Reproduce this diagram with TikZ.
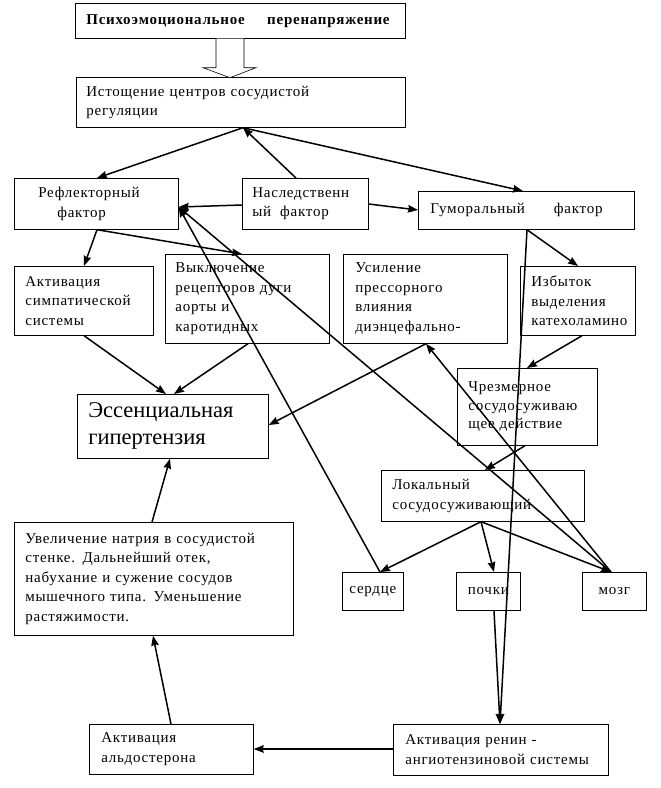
\documentclass[tikz,border=0pt]{standalone}
\usepackage{fontspec}
\setmainfont{Liberation Serif}[LetterSpace=5]
\newfontfamily\essfont{Liberation Serif}
\usetikzlibrary{arrows.meta}
\begin{document}
\begin{tikzpicture}[x=1pt,y=-1pt,
  box/.style={draw, line width=0.7pt, anchor=north west, inner ysep=0pt, align=left,
    font=\fontsize{15}{19.5}\selectfont},
  sbox/.style={draw, line width=0.7pt, anchor=north west, inner sep=0pt, align=center,
    font=\fontsize{15}{19.5}\selectfont},
  arr/.style={line width=1.5pt, -{Stealth[length=10pt,width=7.5pt,inset=1pt]}},
  blockarrow/.style={draw, line width=0.6pt, fill=white}]
\useasboundingbox (0,0) rectangle (661,788);

\node[box, minimum height=35pt, text width=308pt, inner xsep=11pt] (top) at (75,3)
  {\bfseries Психоэмоциональное\hspace{1.5em}перенапряжение};
\node[box, minimum height=50pt, text width=309pt, inner xsep=10pt] (ist) at (76,77)
  {Истощение центров сосудистой\\регуляции};
\node[box, minimum height=51pt, text width=116pt, inner xsep=24pt] (refl) at (14,178)
  {Рефлекторный\\\hspace*{19pt}фактор};
\node[box, minimum height=51pt, text width=106pt, inner xsep=10pt] (nasl) at (242,178)
  {Наследственн\\ый\hspace{0.6em}фактор};
\node[box, minimum height=38pt, text width=192pt, inner xsep=12pt] (gum) at (418,191)
  {Гуморальный\hspace{29pt}фактор};
\node[box, minimum height=69pt, text width=117pt, inner xsep=11pt] (simp) at (14,266)
  {Активация\\симпатической\\системы};
\node[box, minimum height=89pt, text width=144pt, inner xsep=10pt] (vykl) at (165,254)
  {Выключение\\рецепторов дуги\\аорты и\\каротидных};
\node[box, minimum height=89pt, text width=140pt, inner xsep=12pt] (usil) at (343,254)
  {Усиление\\прессорного\\влияния\\диэнцефально-};
\node[box, minimum height=69pt, text width=105pt, inner xsep=5pt] (izb) at (520,266)
  {\hspace*{6pt}Избыток\\\hspace*{6pt}выделения\\\hspace*{6pt}катехоламино};
\node[box, minimum height=64pt, text width=169pt, inner xsep=11pt,
  font=\essfont\fontsize{22.5}{27}\selectfont] (ess) at (77,394)
  {Эссенциальная\\гипертензия};
\node[box, minimum height=77pt, text width=118pt, inner xsep=11pt,
  font=\fontsize{15}{18.5}\selectfont] (chrez) at (457,368)
  {Чрезмерное\\сосудосуживаю\\щее действие};
\node[box, minimum height=51pt, text width=181pt, inner xsep=11pt] (lok) at (381,470)
  {Локальный\\сосудосуживающий};
\node[box, minimum height=113pt, text width=257pt, inner xsep=11pt] (uvel) at (14,522)
  {Увеличение натрия в сосудистой\\стенке. Дальнейший отек,\\набухание и сужение сосудов\\мышечного типа. Уменьшение\\растяжимости.};
\node[sbox, minimum height=38pt, minimum width=61pt] (serd) at (342,572) {сердце};
\node[sbox, minimum height=38pt, minimum width=64pt] (pochki) at (456,572) {почки};
\node[sbox, minimum height=38pt, minimum width=64pt] (mozg) at (582,572) {мозг};
\node[box, minimum height=50pt, text width=140pt, inner xsep=12pt] (ald) at (89,724)
  {Активация\\альдостерона};
\node[box, minimum height=51pt, text width=191pt, inner xsep=12pt] (renin) at (393,724)
  {Активация ренин -\\ангиотензиновой системы};

% block arrow
\draw[blockarrow] ([xshift=141pt]top.south west) -- ++(0,29) -- ++(-13,0)
  -- ++(27,10) -- ++(26,-10) -- ++(-12,0) -- ++(0,-29);

\coordinate (R) at ([yshift=-29pt]refl.north east);
\coordinate (istb) at ([xshift=167pt]ist.south west);
\coordinate (reflb) at ([xshift=83pt]refl.south west);
\coordinate (gumb) at ([xshift=109pt]gum.south west);
\coordinate (lokb) at ([xshift=100pt]lok.south west);
\coordinate (mozgt) at ([xshift=29pt]mozg.north west);
\coordinate (serdt) at ([xshift=38pt]serd.north west);
\coordinate (usilb) at ([xshift=83pt]usil.south west);

\draw[arr] (istb) -- ([xshift=83pt]refl.north west);
\draw[arr] ([xshift=54pt]nasl.north west) -- (istb);
\draw[arr] (istb) -- ([xshift=105pt]gum.north west);
\draw[arr] ([yshift=-27pt]nasl.north west) -- (R);
\draw[arr] ([yshift=-26pt]nasl.north east) -- ([yshift=-19pt]gum.north west);
\draw[arr] (reflb) -- ([xshift=70pt]simp.north west);
\draw[arr] (reflb) -- ([xshift=77pt]vykl.north west);
\draw[arr] (serdt) -- (R);
\draw[arr] (mozgt) -- (R);
\draw[arr] (mozgt) -- (usilb);
\draw[arr] (usilb) -- ([yshift=-31pt]ess.north east);
\draw[arr] (gumb) -- ([xshift=107pt]renin.north west);
\draw[arr] ([xshift=38pt]pochki.south west) -- ([xshift=107pt]renin.north west);
\draw[arr] (gumb) -- ([xshift=58pt]izb.north west);
\draw[arr] ([xshift=62pt]izb.south west) -- ([xshift=70pt]chrez.north west);
\draw[arr] ([xshift=68pt]chrez.south west) -- ([xshift=104pt]lok.north west);
\draw[arr] (lokb) -- (serdt);
\draw[arr] (lokb) -- ([xshift=38pt]pochki.north west);
\draw[arr] (lokb) -- (mozgt);
\draw[arr] ([xshift=70pt]simp.south west) -- ([xshift=89pt]ess.north west);
\draw[arr] ([xshift=83pt]vykl.south west) -- ([xshift=97pt]ess.north west);
\draw[arr] ([xshift=138pt]uvel.north west) -- ([xshift=93pt]ess.south west);
\draw[arr] ([xshift=82pt]ald.north west) -- ([xshift=139pt]uvel.south west);
\draw[arr] ([yshift=-25pt]renin.north west) -- ([yshift=-25pt]ald.north east);
\end{tikzpicture}
\end{document}
